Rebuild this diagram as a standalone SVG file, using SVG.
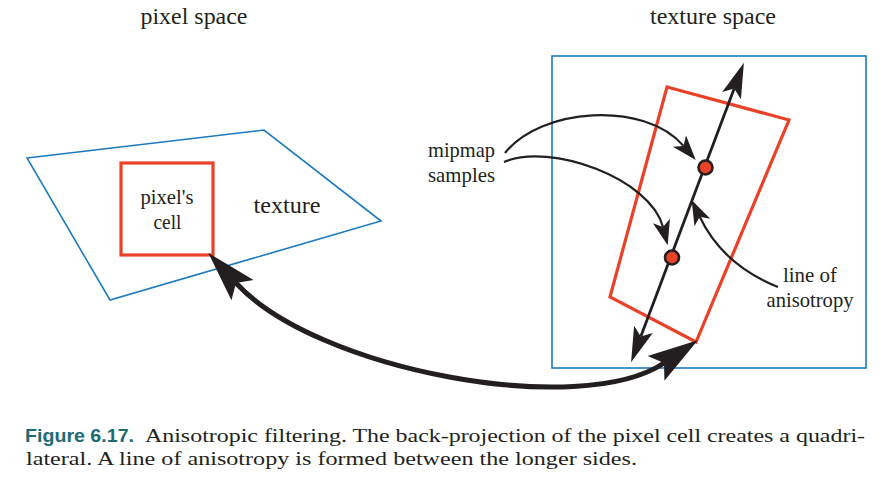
<svg xmlns="http://www.w3.org/2000/svg" width="894" height="494" viewBox="0 0 894 494">
<defs>
<style>
.lbl{font-family:"Liberation Serif","Times New Roman",serif;fill:#231f20;}
.t24{font-size:24px;}
.t21{font-size:21px;}
.cap{font-family:"Liberation Serif","Times New Roman",serif;font-size:19px;fill:#231f20;}
.capb{font-family:"Liberation Sans",Arial,sans-serif;font-weight:bold;font-size:19px;fill:#1d6b74;}
.blue{fill:none;stroke:#1b7ac0;stroke-width:1.6;}
.red{fill:none;stroke:#ea4129;stroke-width:3.2;}
.thin{fill:none;stroke:#231f20;stroke-width:2.2;}
.axis{fill:none;stroke:#231f20;stroke-width:2.8;}
.big{fill:none;stroke:#231f20;stroke-width:5;}
.dot{fill:#ea4129;stroke:#231f20;stroke-width:2.6;}
</style>
<marker id="ahBig" markerUnits="userSpaceOnUse" orient="auto-start-reverse" refX="0" refY="0" markerWidth="60" markerHeight="40" viewBox="-10 -15 50 30" overflow="visible">
<path d="M-8,-12.5 L34,0 L-8,12.5 L0,0 Z" fill="#231f20"/>
</marker>
<marker id="ahMid" markerUnits="userSpaceOnUse" orient="auto-start-reverse" refX="0" refY="0" markerWidth="40" markerHeight="30" viewBox="-8 -10 32 20" overflow="visible">
<path d="M-6,-8 L22,0 L-6,8 L0,0 Z" fill="#231f20"/>
</marker>
<marker id="ahThin" markerUnits="userSpaceOnUse" orient="auto" refX="0" refY="0" markerWidth="30" markerHeight="20" viewBox="-6 -8 24 16" overflow="visible">
<path d="M-5,-7 L15,0 L-5,7 L0,0 Z" fill="#231f20"/>
</marker>
</defs>

<g id="titles">
<text class="lbl t24" x="194" y="24" text-anchor="middle" textLength="107" lengthAdjust="spacingAndGlyphs">pixel space</text>
<text class="lbl t24" x="713" y="24" text-anchor="middle" textLength="126" lengthAdjust="spacingAndGlyphs">texture space</text>
</g>

<g id="pixel-texture-quad">
<polygon class="blue" points="27,158 264,130 381,221 110,300"/>
<text class="lbl t24" x="287" y="213" text-anchor="middle" textLength="67" lengthAdjust="spacingAndGlyphs">texture</text>
</g>

<g id="pixel-cell">
<rect class="red" x="121" y="163" width="92" height="92"/>
<text class="lbl t21" x="167" y="204" text-anchor="middle" textLength="53" lengthAdjust="spacingAndGlyphs">pixel's</text>
<text class="lbl t21" x="167.5" y="229" text-anchor="middle" textLength="28" lengthAdjust="spacingAndGlyphs">cell</text>
</g>

<g id="texture-space-box">
<rect class="blue" x="552" y="56" width="314" height="312"/>
</g>

<g id="footprint">
<polygon class="red" points="667,87 789,120 696,342 610,297"/>
</g>

<g id="mipmap-label">
<text class="lbl t21" x="461.5" y="157" text-anchor="middle" textLength="67" lengthAdjust="spacingAndGlyphs">mipmap</text>
<text class="lbl t21" x="461.5" y="182" text-anchor="middle" textLength="67" lengthAdjust="spacingAndGlyphs">samples</text>
</g>

<g id="anisotropy-label">
<text class="lbl t21" x="810" y="282" text-anchor="middle" textLength="54" lengthAdjust="spacingAndGlyphs">line of</text>
<text class="lbl t21" x="810" y="307" text-anchor="middle" textLength="87" lengthAdjust="spacingAndGlyphs">anisotropy</text>
</g>

<g id="connectors">
<path class="axis" d="M640.8,336.4 L734.2,88.6" marker-start="url(#ahMid)" marker-end="url(#ahMid)"/>
<path class="thin" d="M505,153 C540,108 644,100 683.5,145.9" marker-end="url(#ahThin)"/>
<path class="thin" d="M504,162 C550,142 650.5,178.5 663,227" marker-end="url(#ahThin)"/>
<path class="thin" d="M778,287 C748,275 717,253 699.7,216.8" marker-end="url(#ahThin)"/>
<path class="big" d="M236,283 C317,371 581,419 664,363" marker-start="url(#ahBig)" marker-end="url(#ahBig)"/>
</g>

<g id="samples">
<circle class="dot" cx="705.5" cy="167.5" r="7"/>
<circle class="dot" cx="672" cy="257.5" r="7"/>
</g>

<g id="caption">
<text class="capb" x="25" y="442" textLength="109" lengthAdjust="spacingAndGlyphs">Figure 6.17.</text>
<text class="cap" x="145" y="442" textLength="720" lengthAdjust="spacingAndGlyphs">Anisotropic filtering. The back-projection of the pixel cell creates a quadri-</text>
<text class="cap" x="26" y="465" textLength="611" lengthAdjust="spacingAndGlyphs">lateral. A line of anisotropy is formed between the longer sides.</text>
</g>
</svg>
